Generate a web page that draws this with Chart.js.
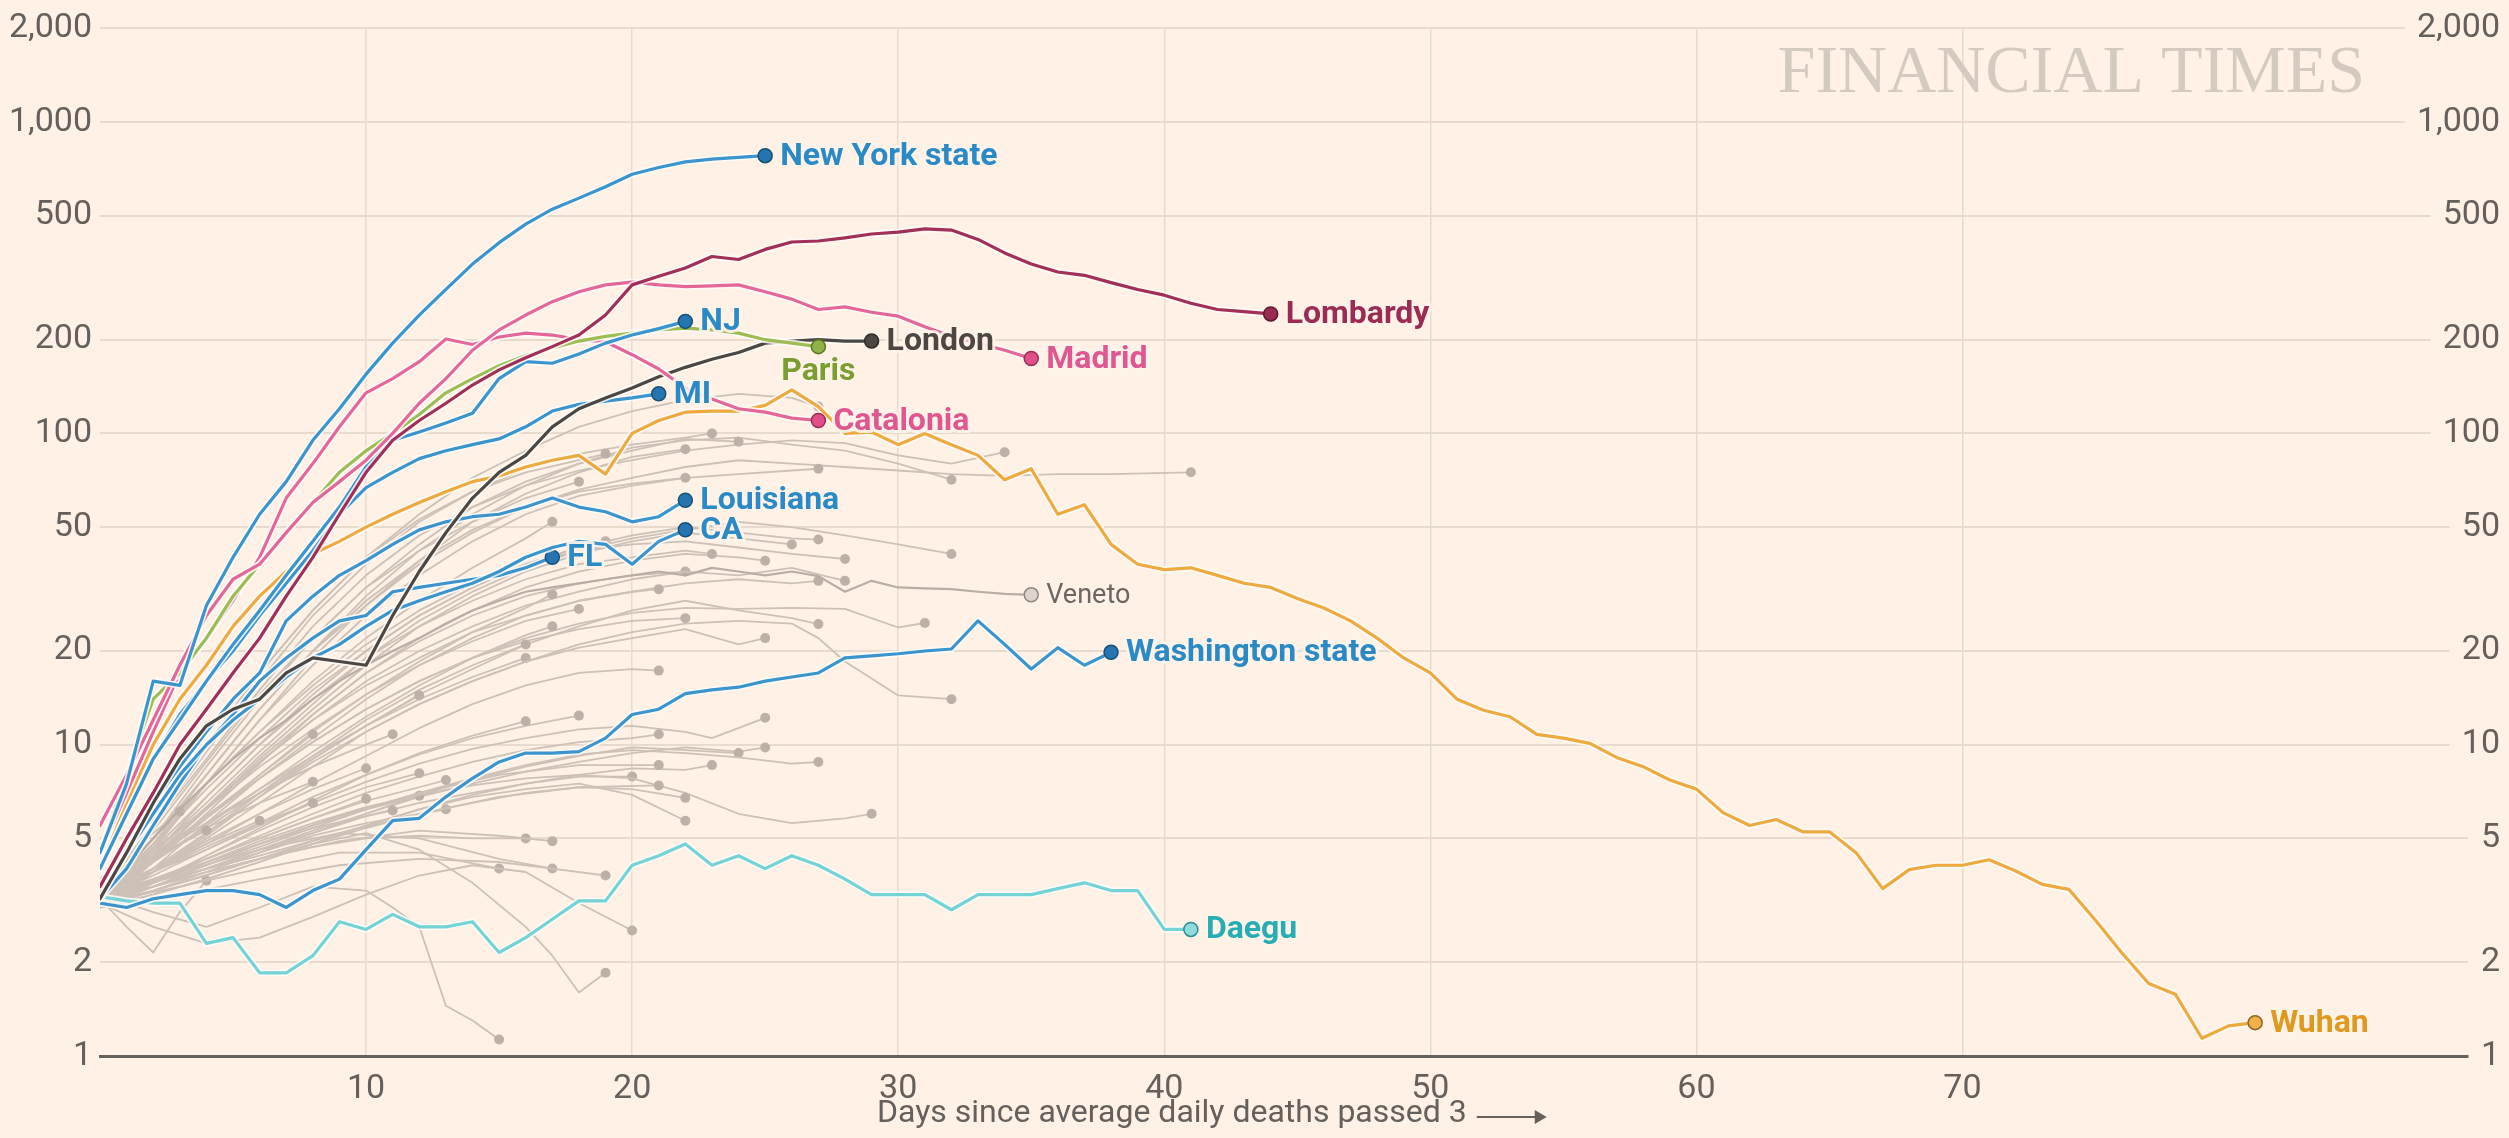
<!DOCTYPE html>
<html>
<head>
<meta charset="utf-8">
<script src="https://cdn.jsdelivr.net/npm/chart.js@4.4.0/dist/chart.umd.min.js"></script>
<style>
  html, body { margin: 0; padding: 0; background: #fff1e5; }
  #wrap { width: 2509px; height: 1138px; }
</style>
</head>
<body>
<div id="wrap"><canvas id="myChart" width="2509" height="1138"></canvas></div>
<script>
// Оси
const yTickValues = [1, 2, 5, 10, 20, 50, 100, 200, 500, 1000, 2000];
const xTickValues = [10, 20, 30, 40, 50, 60, 70];
const xTitle = 'Days since average daily deaths passed 3';

// Выделенные регионы: одно значение на день, начиная с дня 0
const newYork = [4.5, 7.5, 16, 15.5, 28, 40, 55, 70, 95, 120, 155, 195, 240, 290, 350, 410, 470, 525, 570, 620, 680, 715, 745, 760, 770, 780];
const lombardy = [3.5, 5, 7, 10, 13, 17, 22, 30, 40, 55, 75, 95, 110, 125, 143, 160, 175, 190, 207, 240, 300, 320, 340, 370, 362, 390, 412, 415, 425, 437, 443, 454, 450, 420, 380, 350, 330, 322, 305, 290, 278, 262, 250, 246, 242];
const madrid = [5.5, 8, 12, 18, 26, 34, 38, 48, 60, 70, 82, 100, 125, 150, 185, 215, 240, 265, 285, 300, 306, 300, 296, 298, 300, 285, 270, 250, 255, 245, 238, 220, 205, 195, 185, 174];
const catalonia = [4.5, 7, 11, 17, 22, 29, 40, 62, 80, 105, 135, 150, 170, 201, 193, 204, 210, 207, 200, 197, 179, 161, 140, 129, 120, 117, 112, 110];
const paris = [4.5, 8, 14, 17, 22, 30, 38, 48, 60, 75, 88, 100, 115, 135, 150, 165, 178, 188, 198, 205, 210, 215, 218, 215, 210, 200, 195, 190];
const london = [3.2, 4.5, 6.5, 9, 11.5, 13, 14, 17, 19, 18.5, 18, 26, 36, 48, 62, 75, 85, 105, 120, 130, 140, 152, 163, 173, 182, 195, 198, 200, 198, 198];
const newJersey = [4, 6, 9, 12, 16, 21, 27, 35, 45, 58, 78, 95, 101, 108, 116, 150, 170, 168, 180, 195, 207, 217, 229];
const michigan = [4, 6, 9, 12.5, 16, 20, 26, 33, 42, 55, 67, 75, 83, 88, 92, 96, 105, 118, 124, 127, 130, 134];
const louisiana = [3.2, 4.5, 6.5, 8.5, 11, 14, 17, 25, 30, 35, 39, 44, 49, 52, 54, 55, 58, 62, 58, 56, 52, 54, 61];
const california = [3.3, 4.5, 6, 8, 10, 12, 14, 16.5, 19, 21, 24, 27, 29, 31, 33, 36, 40, 43, 45, 44, 38, 45, 49];
const florida = [3.2, 4, 5.5, 7.5, 10, 12.5, 16, 19, 22, 25, 26, 31, 32, 33, 34, 35, 37, 40];
const washington = [3.1, 3.0, 3.2, 3.3, 3.4, 3.4, 3.3, 3.0, 3.4, 3.7, 4.6, 5.7, 5.8, 6.8, 7.8, 8.8, 9.4, 9.4, 9.5, 10.5, 12.5, 13, 14.6, 15, 15.3, 16, 16.5, 17, 19, 19.3, 19.6, 20, 20.3, 25, 21, 17.5, 20.5, 18, 19.8];
const daegu = [3.25, 3.15, 3.1, 3.1, 2.3, 2.4, 1.85, 1.85, 2.1, 2.7, 2.55, 2.85, 2.6, 2.6, 2.7, 2.15, 2.4, 2.75, 3.15, 3.15, 4.1, 4.4, 4.8, 4.1, 4.4, 4.0, 4.4, 4.1, 3.7, 3.3, 3.3, 3.3, 2.95, 3.3, 3.3, 3.3, 3.45, 3.6, 3.4, 3.4, 2.55, 2.55];
const wuhan = [4, 6.5, 10, 14, 18, 24, 30, 36, 41, 45, 50, 55, 60, 65, 70, 73, 78, 82, 85, 74, 100, 110, 117, 118, 118, 123, 138, 122, 100, 101, 92, 100, 92, 85, 71, 77, 55, 59, 44, 38, 36.5, 37, 35, 33, 32, 29.5, 27.5, 25, 22, 19, 17, 14, 12.9, 12.3, 10.8, 10.5, 10.1, 9.1, 8.5, 7.7, 7.2, 6.05, 5.5, 5.75, 5.25, 5.25, 4.5, 3.45, 3.97, 4.1, 4.1, 4.27, 3.93, 3.56, 3.43, 2.73, 2.14, 1.71, 1.58, 1.14, 1.25, 1.28];
const veneto = [3.2, 4, 5, 6.2, 7.5, 9, 10.5, 12, 14, 16, 18, 20, 22, 24.5, 27, 29, 31, 32, 33, 34, 35, 36, 35, 37, 36, 35, 36, 34.8, 31, 33.6, 32, 31.8, 31.6, 31, 30.5, 30.3];

// Остальные регионы (серые): пары [день, значение]
const otherRegions = [
    [[0,3.3],[2,5],[4,8],[6,13],[8,20],[10,28],[12,38],[14,48],[16,58],[18,66],[20,72],[22,78],[24,82],[26,80],[28,78],[30,76],[32,74],[34,73],[36,74],[38,74],[41,75]],
    [[0,3.5],[2,5.5],[4,9],[6,15],[8,24],[10,35],[12,47],[14,58],[16,68],[18,76],[20,82],[22,88],[24,92],[26,95],[28,93],[30,85],[32,80],[34,87]],
    [[0,3.2],[2,4.8],[4,8],[6,13],[8,20],[10,30],[12,42],[14,55],[16,68],[18,80],[20,90],[22,95],[24,97],[26,92],[28,88],[30,80],[32,71]],
    [[0,3.6],[2,6],[4,10],[6,17],[8,27],[10,40],[12,55],[14,72],[16,88],[18,105],[20,118],[22,128],[24,134],[26,130],[27,122]],
    [[0,3.3],[2,5],[4,8.5],[6,14],[8,22],[10,32],[12,44],[14,58],[16,70],[18,80],[20,88],[22,96],[24,94]],
    [[0,3.4],[2,5.5],[4,9.5],[6,16],[8,26],[10,38],[12,52],[14,65],[16,77],[18,86],[20,92],[22,97],[23,100]],
    [[0,3.1],[2,4.6],[4,7.5],[6,12],[8,19],[10,28],[12,39],[14,52],[16,64],[18,75],[20,84],[22,89]],
    [[0,3.5],[2,5.8],[4,10],[6,17],[8,27],[10,40],[12,53],[14,65],[16,75],[18,82],[19,86]],
    [[0,3.2],[2,4.7],[4,7.5],[6,12],[8,18],[10,26],[12,35],[14,45],[16,55],[18,63],[20,68],[22,72],[24,74],[26,76],[27,77]],
    [[0,3.3],[2,5],[4,8],[6,13],[8,20],[10,29],[12,39],[14,49],[16,58],[18,65],[20,69],[22,72]],
    [[0,3.4],[2,5.3],[4,8.8],[6,14.5],[8,22],[10,32],[12,42],[14,52],[16,62],[18,70]],
    [[0,3.2],[2,4.8],[4,7.5],[6,11],[8,16],[10,22],[12,29],[14,37],[16,46],[17,52]],
    [[0,3.1],[2,4.4],[4,6.8],[6,10],[8,14.5],[10,20],[12,26],[14,32],[16,38],[18,43],[19,45]],
    [[0,3.3],[2,4.8],[4,7.2],[6,10.5],[8,15],[10,20],[12,26],[14,32],[16,38],[18,43],[20,47],[22,50],[24,48],[26,46],[27,45.6]],
    [[0,3.1],[2,4.3],[4,6.3],[6,9.2],[8,13],[10,18],[12,24],[14,30],[16,36],[18,41],[20,45],[22,48],[24,46],[26,44]],
    [[0,3.2],[2,4.5],[4,6.5],[6,9.5],[8,13.5],[10,19],[12,25],[14,31],[16,37],[18,42],[20,46],[22,49],[24,52],[26,50],[28,47],[30,44],[32,41]],
    [[0,3.4],[2,5],[4,7.5],[6,11],[8,15.5],[10,21],[12,27],[14,33],[16,38],[18,42],[20,44],[22,45],[24,43],[26,41],[28,39.5]],
    [[0,3],[2,4.2],[4,6],[6,8.7],[8,12.5],[10,17],[12,22],[14,27],[16,32],[18,36],[20,39],[22,41],[24,40],[25,39]],
    [[0,3.3],[2,4.6],[4,6.8],[6,10],[8,14],[10,19],[12,24],[14,29],[16,34],[18,38],[20,40],[22,42],[23,41]],
    [[0,3.1],[2,4.3],[4,6.2],[6,9],[8,12.5],[10,17],[12,21.5],[14,26],[16,30],[18,33],[20,35],[22,36]],
    [[0,3.2],[2,4.4],[4,6.2],[6,8.8],[8,12],[10,16],[12,20],[14,24],[16,28],[18,31],[20,34],[22,36],[24,35],[26,37],[28,33.6]],
    [[0,3],[2,4],[4,5.6],[6,7.8],[8,10.5],[10,14],[12,18],[14,22],[16,26],[18,29],[20,31],[22,33],[24,34],[26,33],[27,33.6]],
    [[0,3.3],[2,4.5],[4,6.3],[6,8.8],[8,12],[10,15.5],[12,19],[14,23],[16,26],[18,29],[20,31],[21,31.6]],
    [[0,3.1],[2,4.2],[4,5.8],[6,8],[8,11],[10,14.5],[12,18.5],[14,23],[16,27.5],[17,30.4]],
    [[0,3.4],[2,4.6],[4,6.2],[6,8.5],[8,11.2],[10,14.5],[12,18],[14,21.5],[16,25],[18,27.3]],
    [[0,3.2],[2,4.3],[4,5.8],[6,7.8],[8,10.2],[10,13],[12,16],[14,19],[16,22],[18,24.5],[20,26.5],[22,27.5],[24,27.3],[26,27.5],[28,27.3],[30,23.8],[31,24.6]],
    [[0,3],[2,3.9],[4,5.2],[6,7],[8,9.2],[10,12],[12,15],[14,18],[16,21],[18,24],[20,27],[22,29],[24,27],[26,25.5],[27,24.4]],
    [[0,3.3],[2,4.4],[4,5.9],[6,7.8],[8,10.2],[10,13],[12,16],[14,19],[16,21.5],[18,23.5],[20,25],[22,25.5]],
    [[0,3.1],[2,3.9],[4,5],[6,6.5],[8,8.5],[10,11],[12,13.5],[14,16],[16,18.5],[18,20.5],[20,22],[22,23.5],[24,21],[25,22]],
    [[0,3.2],[2,4.2],[4,5.5],[6,7.2],[8,9.5],[10,12.3],[12,15.5],[14,19],[16,22.5],[17,24]],
    [[0,3],[2,3.9],[4,5.1],[6,6.8],[8,9],[10,11.5],[12,14.5],[14,17.5],[16,21]],
    [[0,3.4],[2,4.4],[4,5.6],[6,7.2],[8,9.2],[10,11.5],[12,14],[14,16.5],[16,19]],
    [[0,3.2],[2,3.9],[4,4.8],[6,6],[8,7.5],[10,9.2],[12,11.3],[14,13.5],[16,15.5],[18,17],[20,17.5],[21,17.3]],
    [[0,3.3],[2,4.2],[4,5.4],[6,7],[8,9],[10,11.5],[12,14.4]],
    [[0,3.1],[2,4],[4,5.2],[6,6.8],[8,8.8],[10,11],[12,13.5],[14,16],[16,18.5],[18,21],[20,23],[22,24.5],[24,25],[26,24.5],[27,22],[28,18.5],[30,14.4],[32,14]],
    [[0,3.2],[2,3.8],[4,4.6],[6,5.6],[8,6.8],[10,8],[12,9.3],[14,10.5],[16,11.5],[18,12.4]],
    [[0,3],[2,3.6],[4,4.4],[6,5.4],[8,6.6],[10,8],[12,9.4],[14,10.7],[16,11.9]],
    [[0,3.3],[2,3.9],[4,4.6],[6,5.5],[8,6.5],[10,7.6],[12,8.7],[14,9.7],[16,10.5],[18,11.2],[20,11.5],[22,11],[23,10.5],[25,12.2]],
    [[0,3.1],[2,3.6],[4,4.3],[6,5.1],[8,6],[10,7],[12,7.9],[14,8.8],[16,9.6],[18,10.2],[20,10.5],[21,10.8]],
    [[0,3.4],[2,4.4],[4,5.6],[6,7],[8,8.5],[10,10],[11,10.8]],
    [[0,3.2],[2,4.3],[4,5.9],[6,8],[8,10.8]],
    [[0,3.1],[2,3.5],[4,4],[6,4.6],[8,5.3],[10,6],[12,6.8],[14,7.5],[16,8.2],[18,8.8],[20,9.4],[22,9.8],[24,9.5],[25,9.8]],
    [[0,3],[2,3.4],[4,3.9],[6,4.5],[8,5.2],[10,6],[12,6.9],[14,7.7],[16,8.5],[18,9.2],[20,9.8],[22,9.6],[24,9.4]],
    [[0,3.2],[2,3.6],[4,4.1],[6,4.7],[8,5.4],[10,6.2],[12,7],[14,7.8],[16,8.6],[18,9.3],[20,9.6],[22,9.4],[24,9.1],[26,8.7],[27,8.8]],
    [[0,3],[2,3.3],[4,3.7],[6,4.2],[8,4.8],[10,5.5],[12,6.2],[14,6.9],[16,7.5],[18,8],[20,8.4],[22,8.3],[23,8.6]],
    [[0,3.1],[2,3.5],[4,4],[6,4.6],[8,5.2],[10,5.9],[12,6.5],[14,7],[16,7.5],[18,7.9],[20,7.9]],
    [[0,3.3],[2,4],[4,4.9],[6,6],[8,7.2],[10,8.4]],
    [[0,3],[2,3.6],[4,4.4],[6,5.3],[8,6.3],[10,7.3],[12,8.1]],
    [[0,3.2],[2,3.7],[4,4.3],[6,5],[8,5.8],[10,6.6],[12,7.3],[13,7.7]],
    [[0,3.4],[2,4.3],[4,5.4],[6,6.5],[8,7.6]],
    [[0,3.2],[2,3.9],[4,4.7],[6,5.6],[8,6.5]],
    [[0,3.1],[2,3.6],[4,4.3],[6,5],[8,5.8],[10,6.7]],
    [[0,3.3],[2,3.7],[4,4.2],[6,4.8],[8,5.5],[10,6.2],[12,6.85]],
    [[0,3],[2,3.5],[4,4.1],[6,4.8],[8,5.4],[10,5.9],[11,6.15]],
    [[0,3.1],[2,3.5],[4,4],[6,4.5],[8,5.1],[10,5.6],[12,6],[13,6.2]],
    [[0,3.3],[2,4],[4,4.8],[6,5.7]],
    [[0,3.4],[2,4.3],[4,5.3]],
    [[0,3.7],[1,4.4],[2,5.2],[3,6.1]],
    [[0,3.2],[1,2.6],[2,2.15],[3,2.9],[4,3.66]],
    [[0,3.1],[2,3.6],[4,4.2],[6,4.9],[8,5.6],[10,6.3],[12,6.9],[14,7.4],[16,7.8],[18,8],[20,7.8],[22,7],[24,6],[26,5.6],[28,5.8],[29,6]],
    [[0,3],[2,3.3],[4,3.7],[6,4.2],[8,4.8],[10,5.4],[12,6],[14,6.5],[16,7],[18,7.3],[20,7.2],[22,6.75]],
    [[0,3.1],[2,3.4],[4,3.8],[6,4.3],[8,4.9],[10,5.5],[12,6.2],[14,6.8],[16,7.2],[18,7.5],[20,6.9],[22,5.7]],
    [[0,3.2],[3,3.9],[6,4.8],[9,5.9],[12,7],[15,8],[18,8.6],[21,8.6]],
    [[0,3.3],[3,3.8],[6,4.4],[9,5.2],[12,6],[15,6.8],[18,7.3],[21,7.4]],
    [[0,3.2],[2,3.5],[4,3.9],[6,4.3],[8,4.7],[10,5],[12,5.1],[14,5],[16,5]],
    [[0,3],[3,3.6],[6,4.3],[9,4.9],[12,5.3],[15,5.1],[17,4.9]],
    [[0,3.1],[3,3.5],[6,4],[9,4.5],[12,4.5],[15,4]],
    [[0,3.2],[3,3.9],[6,4.6],[9,5.2],[12,5],[15,4.3],[17,4]],
    [[0,3],[3,3.3],[6,3.7],[9,4.1],[12,4.3],[15,4.2],[17,4],[19,3.8]],
    [[0,3.1],[2,2.6],[4,2.3],[6,2.4],[8,2.8],[10,3.3],[12,3.8],[14,4.1],[16,3.9],[18,3.1],[20,2.53]],
    [[0,3.2],[2,3.5],[4,3.9],[6,4.3],[8,4.8],[10,5.2],[12,4.6],[14,3.6],[16,2.6],[17,2.1],[18,1.6],[19,1.85]],
    [[0,3.3],[2,2.9],[4,2.6],[6,3],[8,3.5],[10,3.4],[11,3],[12,2.6],[13,1.45],[14,1.3],[15,1.13]]
];

// Цвета и шрифты
const BG = '#fff1e5';
const GRID = '#e8dbce';
const AXIS = '#66605c';
const GREY_LINE = '#cdc1b7';
const GREY_DOT = '#bdb1a7';
const HALO = 'rgba(255,252,248,0.85)';
const FONT = "Roboto, 'Open Sans', sans-serif";

const blue = { color: '#3a95cf', text: '#2a8ac6', dotFill: '#2576b0', dotStroke: '#14507a' };
const pink = { color: '#e5679a', text: '#e0578f', dotFill: '#e04f88', dotStroke: '#9c2c57' };

// Порядок — от заднего плана к переднему
const highlights = [
    { label: 'Veneto', values: veneto, color: '#b9aea5', text: '#6e6660', dotFill: '#ddd4cc', dotStroke: '#8f8680', width: 2.2, weight: 400, size: 27, halo: false },
    { label: 'Daegu', values: daegu, color: '#74d3d6', text: '#26aeb4', dotFill: '#8fdadc', dotStroke: '#2b8f96' },
    { label: 'Washington state', values: washington, ...blue },
    { label: 'Wuhan', values: wuhan, color: '#eeaa3e', text: '#e0991f', dotFill: '#f0b04a', dotStroke: '#8d6420' },
    { label: 'FL', values: florida, ...blue },
    { label: 'CA', values: california, ...blue },
    { label: 'Louisiana', values: louisiana, ...blue },
    { label: 'MI', values: michigan, ...blue },
    { label: 'London', values: london, color: '#4d4744', text: '#4d4744', dotFill: '#4d4744', dotStroke: '#2e2a28' },
    { label: 'Catalonia', values: catalonia, ...pink },
    { label: 'Paris', values: paris, color: '#9dbc52', text: '#7b9e32', dotFill: '#8fb14a', dotStroke: '#5c7a22', below: true },
    { label: 'NJ', values: newJersey, ...blue },
    { label: 'Madrid', values: madrid, ...pink },
    { label: 'Lombardy', values: lombardy, color: '#a12f58', text: '#9c2b53', dotFill: '#9c2b53', dotStroke: '#61162f' },
    { label: 'New York state', values: newYork, ...blue },
];

// Сборка наборов данных
const datasets = [];
otherRegions.forEach(path => {
    datasets.push({
        data: path.map(p => ({ x: p[0], y: p[1] })),
        yAxisID: 'y2',
        borderColor: GREY_LINE,
        borderWidth: 1.8,
        pointRadius: c => (c.dataIndex === path.length - 1 ? 5 : 0),
        pointBackgroundColor: GREY_DOT,
        pointBorderWidth: 0,
    });
});
highlights.forEach(h => {
    const pts = h.values.map((v, i) => ({ x: i, y: v }));
    const w = h.width || 3.2;
    if (h.halo !== false) {
        datasets.push({ data: pts, borderColor: HALO, borderWidth: w + 3.5, pointRadius: 0 });
    }
    h.index = datasets.length;
    datasets.push({
        data: pts,
        borderColor: h.color,
        borderWidth: w,
        pointRadius: c => (c.dataIndex === pts.length - 1 ? 7 : 0),
        pointBackgroundColor: h.dotFill,
        pointBorderColor: h.dotStroke,
        pointBorderWidth: 1.5,
    });
});
datasets.forEach((d, i) => {
    d.order = datasets.length - i;
    d.tension = 0;
    d.fill = false;
    d.borderJoinStyle = 'round';
    d.borderCapStyle = 'round';
});

// Подписи, водяной знак и подпись оси
const decorPlugin = {
    id: 'decor',
    beforeDatasetsDraw(chart) {
        const ctx = chart.ctx;
        ctx.save();
        ctx.font = "68px 'Liberation Serif', 'DejaVu Serif', serif";
        ctx.fillStyle = '#d4cac0';
        ctx.textAlign = 'right';
        ctx.textBaseline = 'alphabetic';
        ctx.fillText('FINANCIAL TIMES', 2365, 92);
        ctx.restore();
    },
    afterDatasetsDraw(chart) {
        const ctx = chart.ctx;
        ctx.save();
        highlights.forEach(h => {
            const meta = chart.getDatasetMeta(h.index);
            const pt = meta.data[meta.data.length - 1];
            ctx.font = `${h.weight || 700} ${h.size || 32}px ${FONT}`;
            ctx.textBaseline = 'middle';
            let x = pt.x + 15;
            let y = pt.y + 1;
            ctx.textAlign = 'left';
            if (h.below) {
                ctx.textAlign = 'center';
                x = pt.x;
                y = pt.y + 25;
            }
            ctx.lineJoin = 'round';
            ctx.lineWidth = 6;
            ctx.strokeStyle = 'rgba(255,243,233,0.9)';
            ctx.strokeText(h.label, x, y);
            ctx.fillStyle = h.text;
            ctx.fillText(h.label, x, y);
        });
        ctx.restore();
    },
    afterDraw(chart) {
        const ctx = chart.ctx;
        ctx.save();
        ctx.font = `32px ${FONT}`;
        ctx.fillStyle = AXIS;
        ctx.textAlign = 'left';
        ctx.textBaseline = 'middle';
        const x0 = 877;
        const y0 = 1114;
        ctx.fillText(xTitle, x0, y0);
        const end = x0 + ctx.measureText(xTitle).width + 10;
        ctx.strokeStyle = AXIS;
        ctx.lineWidth = 2;
        ctx.beginPath();
        ctx.moveTo(end, y0 + 3);
        ctx.lineTo(end + 62, y0 + 3);
        ctx.stroke();
        ctx.beginPath();
        ctx.moveTo(end + 70, y0 + 3);
        ctx.lineTo(end + 58, y0 - 4);
        ctx.lineTo(end + 58, y0 + 10);
        ctx.closePath();
        ctx.fillStyle = AXIS;
        ctx.fill();
        ctx.restore();
    }
};

const tickFont = { family: FONT, size: 34 };
const yFormat = v => Number(v).toLocaleString('en-US');

const ctx = document.getElementById('myChart').getContext('2d');
const myChart = new Chart(ctx, {
    type: 'line',
    data: { datasets },
    options: {
        responsive: false,
        animation: false,
        events: [],
        layout: { padding: { top: 25, right: 9, left: 0, bottom: 0 } },
        plugins: {
            legend: { display: false },
            tooltip: { enabled: false },
        },
        scales: {
            x: {
                type: 'linear',
                min: 0,
                max: 89,
                afterBuildTicks: s => { s.ticks = xTickValues.map(v => ({ value: v })); },
                afterFit: s => { s.height = 82; },
                grid: { color: GRID, lineWidth: 1.5, drawTicks: false },
                border: { display: true, color: AXIS, width: 3 },
                ticks: { color: AXIS, font: tickFont, padding: 13, maxRotation: 0, autoSkip: false },
            },
            y: {
                type: 'logarithmic',
                position: 'left',
                min: 1,
                max: 2000,
                afterBuildTicks: s => { s.ticks = yTickValues.map(v => ({ value: v })); },
                afterFit: s => { s.width = 100; },
                grid: { color: GRID, lineWidth: 2, drawTicks: false },
                border: { display: false },
                ticks: { color: AXIS, font: tickFont, padding: 8, callback: yFormat, autoSkip: false },
            },
            y2: {
                type: 'logarithmic',
                position: 'right',
                display: true,
                min: 1,
                max: 2000,
                afterBuildTicks: s => { s.ticks = yTickValues.map(v => ({ value: v })); },
                afterFit: s => {
                    s.width = 32;
                    s.paddingTop = 0;
                    s.paddingBottom = 0;
                },
                grid: { display: false, drawTicks: false },
                border: { display: false },
                ticks: {
                    color: AXIS, font: tickFont, mirror: true, crossAlign: 'near', padding: 32,
                    callback: yFormat, autoSkip: false,
                    showLabelBackdrop: true, backdropColor: BG,
                    backdropPadding: { left: 12, right: 0, top: 0, bottom: 0 },
                },
            },
        },
    },
    plugins: [decorPlugin],
});
</script>
</body>
</html>
